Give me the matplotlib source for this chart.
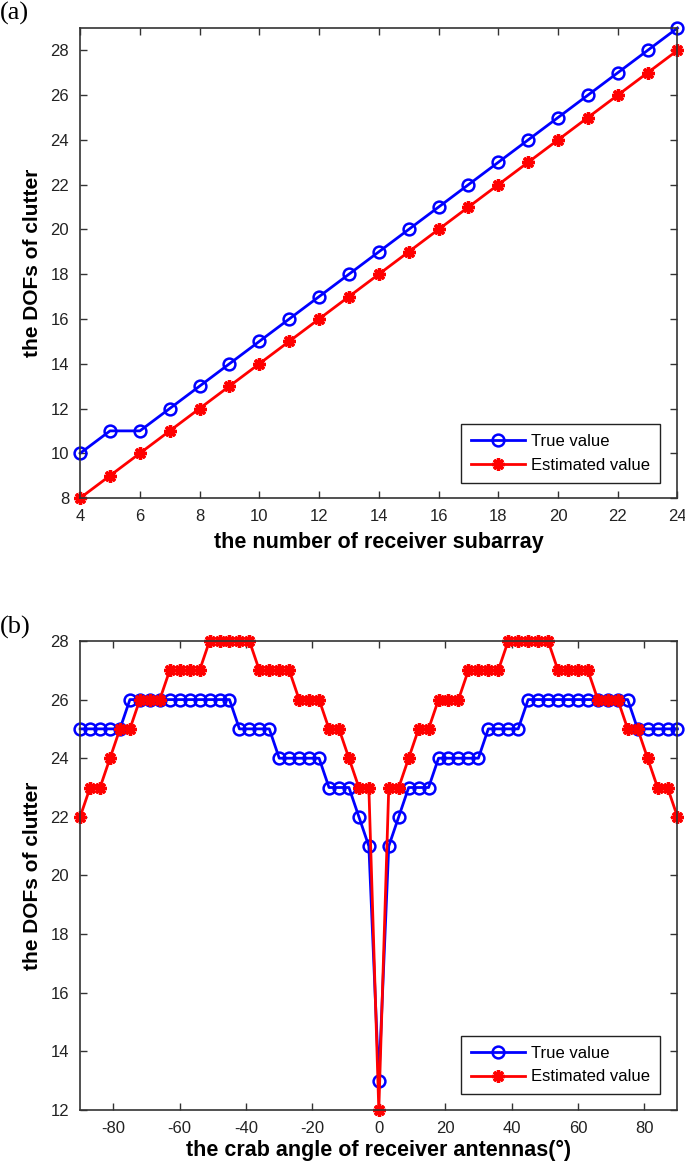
import numpy as np
import matplotlib.pyplot as plt

plt.rcParams['font.family'] = ['Liberation Sans', 'DejaVu Sans']
plt.rcParams['axes.unicode_minus'] = False

# (a) DOFs vs number of receiver subarrays
n_sub = [4, 5, 6, 7, 8, 9, 10, 11, 12, 13, 14, 15, 16, 17, 18, 19, 20, 21, 22, 23, 24]
true_a = [10, 11, 11, 12, 13, 14, 15, 16, 17, 18, 19, 20, 21, 22, 23, 24, 25, 26, 27, 28, 29]
est_a = [8, 9, 10, 11, 12, 13, 14, 15, 16, 17, 18, 19, 20, 21, 22, 23, 24, 25, 26, 27, 28]

# (b) DOFs vs crab angle (degrees)
angle = [-90, -87, -84, -81, -78, -75, -72, -69, -66, -63, -60, -57, -54, -51, -48, -45,
         -42, -39, -36, -33, -30, -27, -24, -21, -18, -15, -12, -9, -6, -3, 0,
         3, 6, 9, 12, 15, 18, 21, 24, 27, 30, 33, 36, 39, 42, 45, 48, 51, 54, 57, 60,
         63, 66, 69, 72, 75, 78, 81, 84, 87, 90]
true_b = [25, 25, 25, 25, 25, 26, 26, 26, 26, 26, 26, 26, 26, 26, 26, 26,
          25, 25, 25, 25, 24, 24, 24, 24, 24, 23, 23, 23, 22, 21, 13,
          21, 22, 23, 23, 23, 24, 24, 24, 24, 24, 25, 25, 25, 25, 26, 26, 26, 26, 26, 26,
          26, 26, 26, 26, 26, 25, 25, 25, 25, 25]
est_b = [22, 23, 23, 24, 25, 25, 26, 26, 26, 27, 27, 27, 27, 28, 28, 28,
         28, 28, 27, 27, 27, 27, 26, 26, 26, 25, 25, 24, 23, 23, 12,
         23, 23, 24, 25, 25, 26, 26, 26, 27, 27, 27, 27, 28, 28, 28, 28, 28, 27, 27, 27,
         27, 26, 26, 26, 25, 25, 24, 23, 23, 22]

star = (8, 2, 0)  # asterisk marker, like matlab '*'

fig = plt.figure(figsize=(6.85, 11.62), dpi=100)
ax1 = fig.add_axes([0.117, 0.5714, 0.872, 0.4045])
ax2 = fig.add_axes([0.117, 0.0448, 0.872, 0.4036])


def style(ax):
    for s in ax.spines.values():
        s.set_linewidth(1.2)
        s.set_color('#333333')
    ax.tick_params(direction='in', length=5, width=1.0, top=True, right=True,
                   labelsize=12, labelcolor='#222222', color='#333333', pad=8)
    leg = ax.legend(loc='lower right', bbox_to_anchor=(0.970, 0.033), fontsize=12,
                    handlelength=3.2, handletextpad=0.35, borderpad=0.6,
                    labelspacing=0.5, fancybox=False, framealpha=1, borderaxespad=0)
    leg.get_frame().set_edgecolor('#222222')
    leg.get_frame().set_linewidth(1.0)
    ax.set_ylabel('the DOFs of clutter', fontsize=15, fontweight='bold', labelpad=6)


ax1.plot(n_sub, true_a, '-', color='#0000ff', lw=2, marker='o', ms=8.5,
         mfc='none', mew=1.8, label='True value', clip_on=False)
ax1.plot(n_sub, est_a, '-', color='#ff0000', lw=2, marker=star, ms=9,
         mew=2.4, label='Estimated value', clip_on=False)
ax1.set_xlim(4, 24)
ax1.set_ylim(8, 29)
ax1.set_xticks(range(4, 25, 2))
ax1.set_yticks(range(8, 29, 2))
ax1.set_xlabel('the number of receiver subarray', fontsize=15.5, fontweight='bold', labelpad=6)
style(ax1)

ax2.plot(angle, true_b, '-', color='#0000ff', lw=2, marker='o', ms=8.5,
         mfc='none', mew=1.8, label='True value', clip_on=False)
ax2.plot(angle, est_b, '-', color='#ff0000', lw=2, marker=star, ms=9,
         mew=2.4, label='Estimated value', clip_on=False)
ax2.set_xlim(-90, 90)
ax2.set_ylim(12, 28)
ax2.set_xticks(range(-80, 81, 20))
ax2.set_yticks(range(12, 29, 2))
ax2.set_xlabel('the crab angle of receiver antennas(°)', fontsize=15.5, fontweight='bold', labelpad=3)
style(ax2)

fig.text(0.0, 0.998, '(a)', fontsize=19, family='Liberation Serif', va='top', ha='left')
fig.text(0.0, 0.47, '(b)', fontsize=19, family='Liberation Serif', va='top', ha='left')

fig.savefig('out.png', dpi=100)
